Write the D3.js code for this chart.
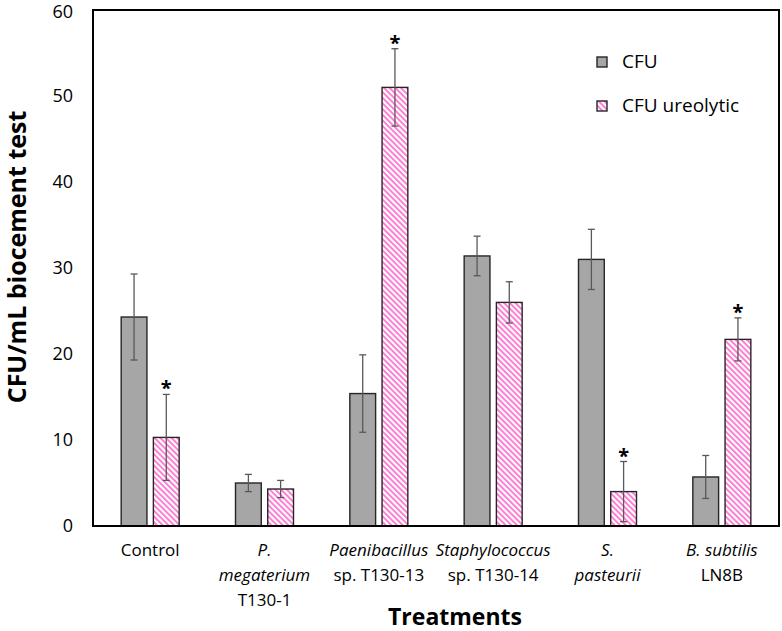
<!DOCTYPE html>
<html>
<head>
<meta charset="utf-8">
<script src="https://cdn.jsdelivr.net/npm/d3@7"></script>
<style>
  body { margin: 0; background: #fff; }
  text { font-family: "Open Sans", sans-serif; fill: #000; }
</style>
</head>
<body>
<script>
// treatments and series
const treatments = ["Control", "P. megaterium", "Paenibacillus", "Staphylococcus", "S. pasteurii", "B. subtilis"];
const series = ["CFU", "CFU ureolytic"];

// values
const cfu = [24.3, 5.0, 15.4, 31.4, 31.0, 5.7];
const cfuErr = [5.0, 1.0, 4.5, 2.3, 3.5, 2.5];
const ureo = [10.3, 4.3, 51.0, 26.0, 4.0, 21.7];
const ureoErr = [5.0, 1.0, 4.5, 2.4, 3.5, 2.5];
const ureoStar = [true, false, true, false, true, true];

const yTicks = [0, 10, 20, 30, 40, 50, 60];

// x labels: each line is a list of [text, italic]
const xLabels = [
    [[["Control", false]]],
    [[["P.", true]], [["megaterium", true]], [["T130-1", false]]],
    [[["Paenibacillus", true]], [["sp. T130-13", false]]],
    [[["Staphylococcus", true]], [["sp. T130-14", false]]],
    [[["S.", true]], [["pasteurii", true]]],
    [[["B. subtilis", true]], [["LN8B", false]]]
];

const width = 782, height = 631;
const margin = {top: 10, right: 3, bottom: 105, left: 93};
const innerW = width - margin.left - margin.right;
const innerH = height - margin.top - margin.bottom;

const svg = d3.select("body").append("svg")
    .attr("width", width)
    .attr("height", height);

// hatch pattern for ureolytic bars
const defs = svg.append("defs");
const pat = defs.append("pattern")
    .attr("id", "hatch")
    .attr("patternUnits", "userSpaceOnUse")
    .attr("width", 4)
    .attr("height", 4)
    .attr("patternTransform", "rotate(-45)");
pat.append("rect").attr("width", 4).attr("height", 4).attr("fill", "#fff");
pat.append("rect").attr("width", 2).attr("height", 4).attr("fill", "#ff7fd4");

const g = svg.append("g").attr("transform", `translate(${margin.left},${margin.top})`);

const x0 = d3.scaleBand().domain(treatments).range([0, innerW]).padding(0);
const bw = x0.bandwidth();
const x1 = d3.scaleBand().domain(series).range([bw / 2 - 29, bw / 2 + 29]).paddingInner(0.2);
const y = d3.scaleLinear().domain([0, 60]).range([innerH, 0]);

// y axis labels only, no tick marks
const yAxis = g.append("g")
    .call(d3.axisLeft(y).tickValues(yTicks).tickSize(0).tickPadding(20));
yAxis.select(".domain").remove();
yAxis.selectAll("text")
    .style("font-family", "'Open Sans', sans-serif")
    .style("font-size", "18px")
    .attr("fill", "#000");
yAxis.selectAll("text").filter(d => d === 60).attr("dy", "0.4em");

// build rows
const rows = treatments.map((t, i) => ({
    t: t,
    vals: [
        {s: series[0], v: cfu[i], e: cfuErr[i], star: false},
        {s: series[1], v: ureo[i], e: ureoErr[i], star: ureoStar[i]}
    ]
}));

const groups = g.selectAll("g.grp")
    .data(rows)
    .enter()
    .append("g")
    .attr("class", "grp")
    .attr("transform", d => `translate(${x0(d.t)},0)`);

const bars = groups.selectAll("g.bar")
    .data(d => d.vals)
    .enter()
    .append("g")
    .attr("class", "bar");

bars.append("rect")
    .attr("x", d => x1(d.s))
    .attr("y", d => y(d.v))
    .attr("width", x1.bandwidth())
    .attr("height", d => innerH - y(d.v))
    .attr("fill", d => d.s === "CFU" ? "#a6a6a6" : "url(#hatch)")
    .attr("stroke", "#262626")
    .attr("stroke-width", 1.4);

// error bars
const cx = d => x1(d.s) + x1.bandwidth() / 2;
bars.append("line")
    .attr("x1", cx).attr("x2", cx)
    .attr("y1", d => y(d.v + d.e))
    .attr("y2", d => y(d.v - d.e))
    .attr("stroke", "#595959")
    .attr("stroke-width", 1.3);
bars.append("line")
    .attr("x1", d => cx(d) - 3.5).attr("x2", d => cx(d) + 3.5)
    .attr("y1", d => y(d.v + d.e)).attr("y2", d => y(d.v + d.e))
    .attr("stroke", "#595959")
    .attr("stroke-width", 1.3);
bars.append("line")
    .attr("x1", d => cx(d) - 3.5).attr("x2", d => cx(d) + 3.5)
    .attr("y1", d => y(d.v - d.e)).attr("y2", d => y(d.v - d.e))
    .attr("stroke", "#595959")
    .attr("stroke-width", 1.3);

// significance stars
bars.filter(d => d.star)
    .append("text")
    .attr("x", cx)
    .attr("y", d => y(d.v + d.e) + 1)
    .attr("text-anchor", "middle")
    .style("font-size", "20px")
    .style("font-weight", "bold")
    .text("*");

// frame
g.append("rect")
    .attr("x", 0).attr("y", 0)
    .attr("width", innerW).attr("height", innerH)
    .attr("fill", "none")
    .attr("stroke", "#000")
    .attr("stroke-width", 2);

// x labels
xLabels.forEach((lines, i) => {
    const t = g.append("text")
        .attr("x", x0(treatments[i]) + bw / 2)
        .attr("y", innerH + 30)
        .attr("text-anchor", "middle")
        .style("font-size", "17px");
    lines.forEach((parts, j) => {
        parts.forEach((p, k) => {
            const ts = t.append("tspan")
                .style("font-style", p[1] ? "italic" : "normal")
                .text(p[0]);
            if (k === 0) {
                ts.attr("x", x0(treatments[i]) + bw / 2).attr("dy", j === 0 ? 0 : 25);
            }
        });
    });
});

// axis titles
svg.append("text")
    .attr("x", 455)
    .attr("y", 625)
    .attr("text-anchor", "middle")
    .style("font-size", "23px")
    .style("font-weight", "bold")
    .text("Treatments");

svg.append("text")
    .attr("transform", "rotate(-90)")
    .attr("x", -257)
    .attr("y", 26)
    .attr("text-anchor", "middle")
    .style("font-size", "25px")
    .style("font-weight", "bold")
    .text("CFU/mL biocement test");

// legend
const legend = svg.append("g").attr("transform", "translate(597,57)");
series.forEach((s, i) => {
    const row = legend.append("g").attr("transform", `translate(0,${i * 44})`);
    row.append("rect")
        .attr("width", 10).attr("height", 10)
        .attr("fill", i === 0 ? "#a6a6a6" : "url(#hatch)")
        .attr("stroke", "#262626")
        .attr("stroke-width", 1.4);
    row.append("text")
        .attr("x", 25)
        .attr("y", 11)
        .style("font-size", "19px")
        .text(s);
});
</script>
</body>
</html>
